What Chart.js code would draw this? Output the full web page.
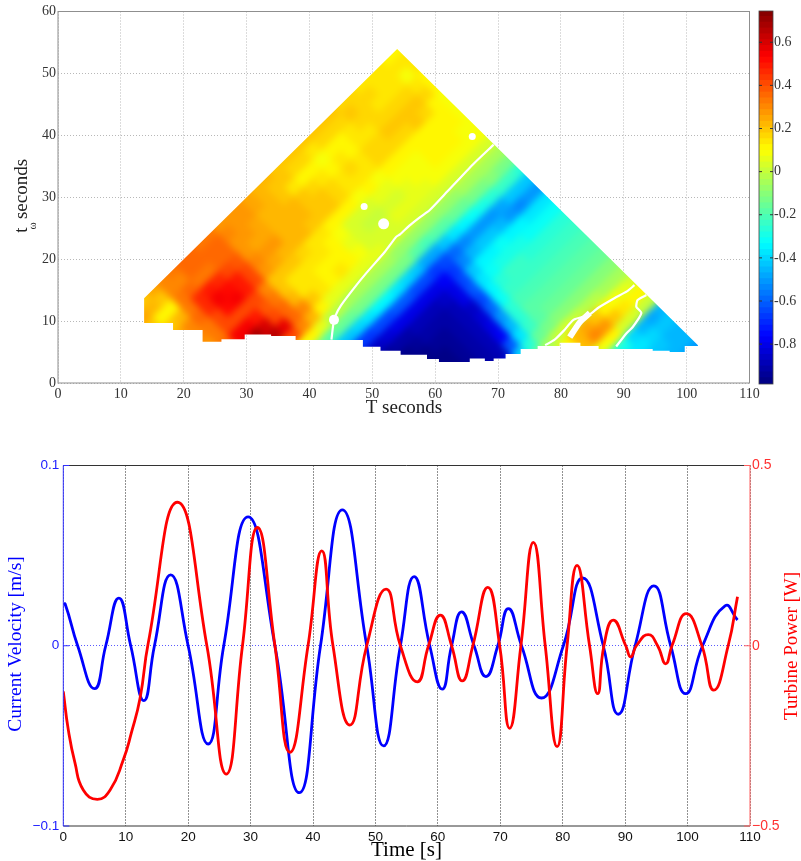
<!DOCTYPE html>
<html><head><meta charset="utf-8">
<script src="https://cdn.jsdelivr.net/npm/chart.js@4/dist/chart.umd.min.js"></script>
<style>html,body{margin:0;padding:0;background:#fff}canvas{position:absolute;display:block}</style>
</head><body>
<canvas id="heat" width="801" height="430" style="left:0;top:0"></canvas>
<canvas id="bar" width="56" height="400" style="left:745px;top:0"></canvas>
<canvas id="lines" width="801" height="426" style="left:0;top:435px"></canvas>
<script>
// ---------- top panel data: values read along the two diagonal directions
// a = T - t, b = T + t, values in hundredths
const aValues=[0,3,6,9,12,15,18,21,24,27,30,33,36,39,42,45,48,51,54,57,60,63,66,69,72,75,78,81,84,87,90,93,96];
const bValues=[108,105,102,99,96,93,90,87,84,81,78,75,72,69,66,63,60,57,54,51,48,45,42,39,36,33,30,27,24,21];
const cellValues=[
[12,14,14,12,10,8,7,8,9,7,3,-6,-13,-26,-44,-50,-38,-31,-27,-24,-22,-20,-17,-11,-4,4,10,0,-45,-42,-45,-47,-50],
[12,14,8,14,16,12,10,10,9,8,4,-5,-12,-24,-42,-50,-38,-31,-27,-24,-22,-20,-17,-11,-4,5,12,0,-48,-42,-45,-47,-50],
[13,14,13,17,19,17,12,10,11,8,4,-4,-11,-24,-44,-54,-37,-31,-27,-24,-22,-20,-16,-11,-4,8,15,2,-45,-40,-43,-45,-48],
[14,15,14,17,19,18,12,10,11,9,4,-5,-12,-27,-48,-50,-36,-31,-27,-24,-22,-20,-16,-11,-3,12,20,4,-40,-38,-42,-45],
[15,16,15,16,18,17,11,10,10,8,3,-6,-14,-30,-52,-46,-35,-30,-26,-24,-22,-19,-16,-10,-2,18,28,10,-30,-38,-42,-45],
[16,17,16,16,18,16,11,9,9,7,2,-7,-15,-32,-52,-42,-33,-29,-25,-23,-21,-19,-16,-10,0,24,30,8,-28,-36,-40],
[17,18,16,14,17,16,10,8,8,6,2,-8,-16,-34,-52,-44,-34,-29,-25,-23,-21,-19,-16,-10,2,22,22,4,-25,-36],
[18,17,13,13,17,16,10,7,6,6,3,-8,-18,-38,-54,-46,-36,-31,-27,-24,-22,-20,-18,-12,0,10,8,-5,-18],
[19,16,12,12,14,15,9,6,4,5,3,-8,-20,-42,-60,-55,-44,-37,-34,-31,-28,-26,-23,-16,-6,4,2],
[19,17,11,13,16,15,10,5,3,5,3,-8,-22,-48,-65,-68,-65,-62,-64,-60,-52,-46,-38,-28,-14,-4],
[19,15,8,11,15,15,9,3,1,3,3,-8,-20,-48,-68,-78,-80,-82,-85,-84,-82,-78,-62,-40,-20],
[19,16,12,15,17,16,10,4,0,2,3,-8,-14,-44,-66,-80,-86,-88,-90,-90,-90,-90,-88,-72],
[19,17,12,16,19,18,12,4,3,4,5,-5,-14,-40,-64,-80,-88,-91,-92,-92,-92,-92,-92],
[20,18,15,19,20,18,12,8,5,8,5,-5,-14,-38,-62,-80,-88,-91,-94,-94,-94,-94],
[21,20,18,21,22,20,14,11,10,12,6,-4,-13,-36,-62,-80,-89,-92,-94,-96,-96],
[22,22,21,21,23,21,15,13,11,13,6,-4,-13,-36,-64,-81,-91,-94,-96,-97],
[24,24,23,23,23,21,16,14,12,12,5,-4,-14,-38,-66,-84,-93,-96,-97],
[26,26,25,25,26,23,18,15,13,13,6,-3,-15,-40,-68,-86,-95,-97],
[27,28,26,25,27,24,18,15,13,20,12,-2,-16,-42,-68,-88,-96],
[28,30,28,27,30,26,20,18,22,30,22,6,-18,-44,-70,-90],
[32,36,36,38,42,40,30,32,34,36,30,10,-15,-46,-70],
[32,36,34,40,50,50,40,38,42,56,42,8,-20,-46],
[34,36,32,46,52,55,42,50,60,66,34,4,-16],
[36,36,32,50,54,52,40,55,68,55,25],
[32,30,35,45,46,40,40,55,55,50],
[30,30,32,33,36,32,33,36,40],
[24,20,12,22,30,30,28],
[18,22,12,20,24,24,26],
[20,24,20,20,22,24],
[20,24,20,20,22]
];
// outline of the filled region
const apexT=53.95, apexW=53.95, tipT=101.8, tipW=6.1;
const stepT=[13.7,18.3,23,26,29.7,33.9,37.8,48.5,51.3,54.5,58.7,60.6,65.5,67.9,69.3,71.2,73.6,76.3,79.8,83.1,86,94.6,97.3,99.7,101.8];
const stepW=[9.7,8.55,6.66,7.05,7.85,7.58,6.93,5.86,5.2,4.56,3.87,3.4,3.97,3.55,3.97,4.67,5.5,5.96,6.5,5.96,5.5,5.2,5,5.96];
// near-zero contours (white)
const contourA=[[69.3,38.5],[66,35.3],[62,31],[59.1,27.9],[57.6,26.8],[56,25.5],[54.4,24],[53.8,23.6],[52,21.2],[49,17.7],[47,15.2],[45,12.5],[44.2,11],[43.8,9.5],[43.5,7]];
const contourB=[[91.7,15.8],[90.5,14.8],[88.5,13.7],[86,12.2],[84.5,11],[82,10.2],[80.5,8.5],[79,7],[77.5,6.1]];
const contourBlob=[[84.6,11.3],[83,9.8],[81.4,7.4]];
const contourC=[[93.6,14.2],[92.2,13.4],[92,12.3],[92.8,11.3],[91.4,9],[90.4,8],[88.8,5.9]];
const whiteSpots=[[48.7,28.5,3.5],[51.8,25.7,5.5],[65.9,39.8,3.5],[43.9,10.2,5]];
const topXTicks=[0,10,20,30,40,50,60,70,80,90,100,110];
const topYTicks=[0,10,20,30,40,50,60];
const barTicks=[0.6,0.4,0.2,0,-0.2,-0.4,-0.6,-0.8];
const colorMin=-0.985, colorMax=0.745;

// ---------- bottom panel data
const velT=[0,0.3,2.3,5,6.8,8.9,10.8,12.9,14.6,17.2,20,23.2,25.7,29.6,33.9,37.8,41.2,44.7,48.6,51.3,54,56.2,58.7,60.7,62.2,63.8,65.8,67.7,69.6,71.3,73.4,76.6,80.1,83.2,86.5,88.9,91.6,94.6,97.3,99.7,102.4,106,108];
const velV=[0.0228,0.0232,0,-0.0238,0,0.0264,0,-0.0304,0,0.0393,0,-0.0545,0,0.0715,0,-0.0815,0,0.0754,0,-0.0556,0,0.0384,0,-0.0241,0,0.0188,0,-0.0171,0,0.0206,0,-0.029,0,0.0376,0,-0.038,0,0.0332,0,-0.0266,0,0.0221,0.0143];
const powT=[0,0.8,1.87,3.2,5.45,7.5,9.6,10.9,12.3,13.6,18.3,23,26.1,28.7,31.1,33.9,36.3,39.2,41.4,43.2,45.9,48.6,51.7,54,56.7,58.5,60.4,62.2,63.9,65.6,68,69.9,71.5,73.3,75.3,77.2,79.1,80.7,82.3,84.3,85.6,86.6,88.1,90.1,90.9,91.8,93.7,95.2,96.5,97.5,99.8,102.3,104.2,106.5,108];
const powV=[-0.127,-0.233,-0.325,-0.4,-0.426,-0.4,-0.317,-0.242,-0.145,0.007,0.398,0,-0.356,0,0.328,0,-0.296,0,0.263,0,-0.22,0,0.157,0,-0.1,0,0.085,0,-0.0976,0,0.162,0,-0.229,0,0.287,0,-0.28,0,0.223,0,-0.133,0,0.071,0,-0.031,0,0.031,0,-0.05,0,0.089,0,-0.123,0,0.136];
const lineXTicks=[0,10,20,30,40,50,60,70,80,90,100,110];
const velTicks=[-0.1,0,0.1], velLabels=['\u22120.1','0','0.1'];
const powTicks=[-0.5,0,0.5], powLabels=['\u22120.5','0','0.5'];

// ---------- helpers
const SERIF='"Liberation Serif"', SANS='"Liberation Sans"';
function jet(v){
  let f=(v-colorMin)/(colorMax-colorMin); f=Math.max(0,Math.min(1,f));
  f=(Math.floor(f*63.999)+0.5)/64;
  const c=x=>Math.round(255*Math.max(0,Math.min(1,1.5-Math.abs(4*f-x))));
  return `rgb(${c(3)},${c(2)},${c(1)})`;
}
function setTicks(list){return s=>{s.ticks=list.map(v=>({value:v}));};}
function fixX(h){return s=>{s.height=h;s.paddingLeft=0;s.paddingRight=0;};}
function fixY(w){return s=>{s.width=w;s.paddingTop=0;s.paddingBottom=0;};}
function pts(list){return list.map(p=>({x:p[0],y:p[1]}));}
function zip(x,y){return x.map((v,i)=>({x:v,y:y[i]}));}
function vText(ctx,txt,x,y,font,color,rot){
  ctx.save();ctx.translate(x,y);ctx.rotate(rot===undefined?-Math.PI/2:rot);
  ctx.font=font;ctx.fillStyle=color;ctx.textAlign='center';ctx.textBaseline='middle';
  ctx.fillText(txt,0,0);ctx.restore();
}
function hLine(ctx,x1,y1,x2,y2,color,w){
  ctx.save();ctx.strokeStyle=color;ctx.lineWidth=w||1;ctx.beginPath();ctx.moveTo(x1,y1);ctx.lineTo(x2,y2);ctx.stroke();ctx.restore();
}

// ---------- heat cells (edge cells repeated just outside the outline so smoothing keeps a crisp edge)
const heatPoints=[];
const addCell=(a,b,v)=>heatPoints.push({x:(a+b)/2,y:(b-a)/2,v:v/100});
bValues.forEach((b,r)=>{
  const row=cellValues[r];
  addCell(-3,b,row[0]);
  row.forEach((v,j)=>addCell(aValues[j],b,v));
  addCell(aValues[row.length-1]+3,b,row[row.length-1]);
  addCell(aValues[row.length-1]+6,b,row[row.length-1]);
});
cellValues[0].forEach((v,j)=>addCell(aValues[j],111,v));
addCell(-3,111,cellValues[0][0]);addCell(99,111,cellValues[0][32]);

let heatBackdrop=null;
function copyOf(cv,filter){
  const o=document.createElement('canvas');o.width=cv.width;o.height=cv.height;
  const k=o.getContext('2d');if(filter)k.filter=filter;k.drawImage(cv,0,0);return o;
}
const heatPlugin={
  id:'heatClip',
  beforeDatasetDraw(chart,args){
    if(chart.data.datasets[args.index].heatCells!==true) return;
    heatBackdrop=copyOf(chart.canvas);
  },
  afterDatasetDraw(chart,args){
    if(chart.data.datasets[args.index].heatCells!==true) return;
    const {x,y}=chart.scales, c=chart.ctx, cv=chart.canvas;
    const smooth=copyOf(cv,'blur(3.6px)');
    c.save();
    c.clearRect(0,0,cv.width,cv.height);
    c.drawImage(heatBackdrop,0,0);
    c.beginPath();
    c.moveTo(x.getPixelForValue(apexT),y.getPixelForValue(apexW));
    c.lineTo(x.getPixelForValue(tipT),y.getPixelForValue(tipW));
    for(let i=stepW.length-1;i>=0;i--){
      c.lineTo(x.getPixelForValue(stepT[i+1]),y.getPixelForValue(stepW[i]));
      c.lineTo(x.getPixelForValue(stepT[i]),y.getPixelForValue(stepW[i]));
    }
    c.lineTo(x.getPixelForValue(stepT[0]),y.getPixelForValue(stepT[0]));
    c.closePath();c.clip();
    c.drawImage(smooth,0,0);
    c.restore();
  },
  beforeDatasetsDraw(chart){
    const c=chart.ctx,a=chart.chartArea;
    c.save();c.strokeStyle='#8f8f8f';c.lineWidth=1;
    c.strokeRect(a.left,a.top,a.right-a.left,a.bottom-a.top);c.restore();
  },
  afterDraw(chart){
    const c=chart.ctx;
    vText(c,'T seconds',404,408,'19px '+SERIF,'#222',0);
    vText(c,'t',22,230,'19px '+SERIF,'#222');
    vText(c,'seconds',22,189,'19px '+SERIF,'#222');
    vText(c,'\u03C9',33,226,'11px '+SERIF,'#222');
  }
};
const whiteLine=(list,w)=>({type:'line',data:pts(list),borderColor:'#fff',borderWidth:w||2.2,pointRadius:0,fill:false,tension:0.2});
new Chart(document.getElementById('heat'),{
  type:'scatter',
  data:{datasets:[
    whiteLine(contourA),whiteLine(contourB),whiteLine(contourBlob,6),whiteLine(contourC),
    {data:whiteSpots.map(p=>({x:p[0],y:p[1],r:p[2]})),pointRadius:c=>c.raw.r,pointBackgroundColor:'#fff',pointBorderWidth:0},
    {heatCells:true,clip:false,data:heatPoints,pointStyle:'rectRot',pointRadius:10.2,pointBorderWidth:0,
     pointBackgroundColor:c=>jet(c.raw.v),showLine:false}
  ]},
  options:{responsive:false,animation:false,events:[],
    layout:{padding:{left:18,top:11.5,right:51.5,bottom:17}},
    plugins:{legend:{display:false},tooltip:{enabled:false}},
    scales:{
      x:{type:'linear',min:0,max:110,afterBuildTicks:setTicks(topXTicks),afterFit:fixX(30),
         grid:{color:'#b8b8b8',drawTicks:false},border:{display:false,dash:[1,2]},
         ticks:{color:'#333',font:{family:'Liberation Serif',size:14},padding:3,maxRotation:0,autoSkip:false}},
      y:{type:'linear',min:0,max:60,afterBuildTicks:setTicks(topYTicks),afterFit:fixY(40),
         grid:{color:'#b8b8b8',drawTicks:false},border:{display:false,dash:[1,2]},
         ticks:{color:'#333',font:{family:'Liberation Serif',size:14},padding:2,autoSkip:false}}
    }
  },
  plugins:[heatPlugin]
});

// ---------- colour bar
const levels=[...Array(64).keys()];
const barPlugin={id:'barFrame',afterDatasetsDraw(chart){
  const c=chart.ctx,a=chart.chartArea,y=chart.scales.y;
  c.save();c.strokeStyle='#444';c.lineWidth=0.8;c.strokeRect(a.left,a.top,a.right-a.left,a.bottom-a.top);c.restore();
  barTicks.forEach(v=>{const p=y.getPixelForValue(v);hLine(c,a.right-3,p,a.right,p,'#333',1);hLine(c,a.left,p,a.left+3,p,'#333',1);});
}};
new Chart(document.getElementById('bar'),{
  type:'bar',
  data:{labels:[''],datasets:levels.map(i=>{
    const lo=colorMin+(colorMax-colorMin)*i/64, hi=colorMin+(colorMax-colorMin)*(i+1.1)/64;
    return {data:[[lo,hi]],backgroundColor:jet((lo+colorMin+(colorMax-colorMin)*(i+1)/64)/2),borderWidth:0,grouped:false,barPercentage:1,categoryPercentage:1};
  })},
  options:{responsive:false,animation:false,events:[],
    layout:{padding:{left:14,top:11,right:0,bottom:16}},
    plugins:{legend:{display:false},tooltip:{enabled:false}},
    scales:{
      x:{display:false},
      y:{position:'right',min:colorMin,max:colorMax,afterBuildTicks:setTicks(barTicks),afterFit:fixY(28),
         grid:{display:false,drawTicks:false},border:{display:false},
         ticks:{color:'#333',font:{family:'Liberation Serif',size:14},padding:1,autoSkip:false,callback:v=>String(Math.round(v*10)/10)}}
    }
  },
  plugins:[barPlugin]
});

// ---------- bottom chart
const linePlugin={id:'lineFrame',
  afterDatasetsDraw(chart){
    const c=chart.ctx,a=chart.chartArea,{y,y1}=chart.scales;
    hLine(c,a.left,a.top,a.right,a.top,'#333',1);
    hLine(c,a.left,a.bottom,a.right,a.bottom,'#333',1);
    hLine(c,a.left,a.top,a.left,a.bottom,'#3030ff',1);
    hLine(c,a.right,a.top,a.right,a.bottom,'#ff6060',1);
    velTicks.forEach(v=>{const p=y.getPixelForValue(v);hLine(c,a.left,p,a.left+6,p,'#3030ff',1);});
    powTicks.forEach(v=>{const p=y1.getPixelForValue(v);hLine(c,a.right-6,p,a.right,p,'#ff6060',1);});
  },
  afterDraw(chart){
    const c=chart.ctx;
    vText(c,'Time [s]',406.5,415,'21px '+SERIF,'#000',0);
    vText(c,'Current Velocity [m/s]',16,209,'19.5px '+SERIF,'#0000ff');
    vText(c,'Turbine Power [W]',792.5,211,'19px '+SERIF,'#ff0000');
  }
};
new Chart(document.getElementById('lines'),{
  type:'line',
  data:{datasets:[
    {data:zip(powT,powV),yAxisID:'y1',borderColor:'#ff0000',borderWidth:2.8,pointRadius:0,tension:0.5,fill:false},
    {data:zip(velT,velV),yAxisID:'y',borderColor:'#0000ff',borderWidth:2.8,pointRadius:0,tension:0.5,fill:false}
  ]},
  options:{responsive:false,animation:false,events:[],
    layout:{padding:{left:18.3,top:30.5,right:21,bottom:5}},
    plugins:{legend:{display:false},tooltip:{enabled:false}},
    scales:{
      x:{type:'linear',min:0,max:110,afterBuildTicks:setTicks(lineXTicks),afterFit:fixX(30),
         grid:{color:'#222',drawTicks:false},border:{display:false,dash:[1,2]},
         ticks:{color:'#111',font:{family:'Liberation Sans',size:13.5},padding:3,maxRotation:0,autoSkip:false}},
      y:{type:'linear',position:'left',min:-0.1,max:0.1,afterBuildTicks:setTicks(velTicks),afterFit:fixY(45),
         grid:{color:c=>c.tick&&c.tick.value===0?'#5a5aff':'rgba(0,0,0,0)',drawTicks:false},border:{display:false,dash:[1,2]},
         ticks:{color:'#2020ff',font:{family:'Liberation Sans',size:13.5},padding:4,autoSkip:false,callback:v=>velLabels[velTicks.indexOf(v)]}},
      y1:{type:'linear',position:'right',min:-0.5,max:0.5,afterBuildTicks:setTicks(powTicks),afterFit:fixY(30),
         grid:{display:false,drawTicks:false},border:{display:false},
         ticks:{color:'#ff3030',font:{family:'Liberation Sans',size:14},padding:2,autoSkip:false,callback:v=>powLabels[powTicks.indexOf(v)]}}
    }
  },
  plugins:[linePlugin]
});
</script>
</body></html>
